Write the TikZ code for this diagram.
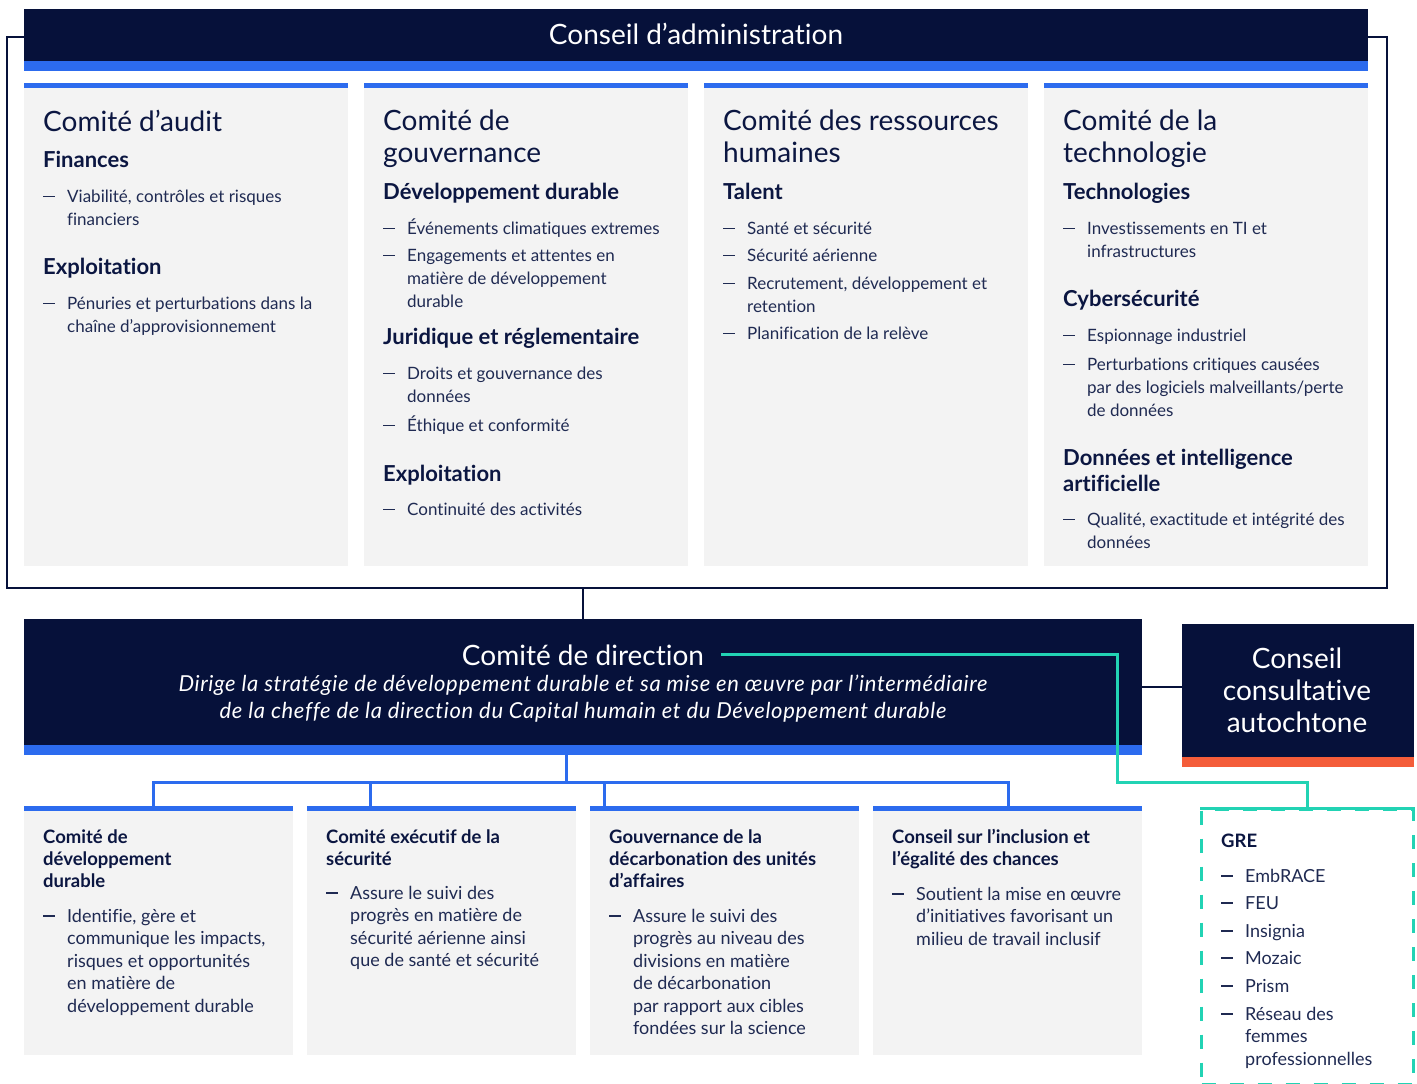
\documentclass[tikz,border=0pt]{standalone}
\usepackage{fontspec}
\setmainfont{Lato}[Ligatures={TeX,NoCommon}]
\definecolor{navy}{HTML}{06113A}
\definecolor{bar}{HTML}{2C6BEE}
\definecolor{panel}{HTML}{F3F3F3}
\definecolor{mint}{HTML}{22D3B4}
\definecolor{flame}{HTML}{F45D3A}
\definecolor{ink}{HTML}{0B1641}
\definecolor{body}{HTML}{1F2A52}
% stacked lines, first baseline on top
\newcommand{\lines}[1]{\begin{tabular}[t]{@{}l@{}}#1\end{tabular}}
\newcommand{\clines}[1]{\begin{tabular}[t]{@{}c@{}}#1\end{tabular}}
\newcommand{\dashitem}[1]{\makebox[24pt][l]{\raisebox{0.3em}{\rule{12pt}{1.3pt}}}\lines{#1}}

\begin{document}
\begin{tikzpicture}[x=1pt,y=-1pt,
  panelbox/.style={fill=panel,anchor=north west,inner sep=0pt,minimum width=324pt,minimum height=483pt,
    path picture={\fill[bar] (path picture bounding box.north west) rectangle ([yshift=-5pt]path picture bounding box.north east);}},
  navybox/.style={fill=navy,anchor=north west,inner sep=0pt,
    path picture={\fill[#1] ([yshift=10pt]path picture bounding box.south west) rectangle (path picture bounding box.south east);}},
  navybox/.default=bar,
  frame/.style={draw=navy,line width=2pt,anchor=north west,inner sep=0pt},
  grebox/.style={draw=mint,line width=3pt,dash pattern=on 14pt off 14pt,anchor=north west,inner sep=0pt},
  bandlabel/.style={anchor=base,inner sep=0pt,text=white,font=\fontsize{28}{32}\selectfont},
  bandnote/.style={anchor=base,inner sep=0pt,text=white,font=\itshape\fontsize{22}{27}\selectfont\addfontfeature{LetterSpace=3}},
  heading/.style={anchor=base west,inner sep=0pt,text=ink,font=\fontsize{28}{32}\selectfont},
  subhead/.style={anchor=base west,inner sep=0pt,text=ink,font=\bfseries\fontsize{22}{26}\selectfont},
  item/.style={anchor=base west,inner sep=0pt,text=body,font=\fontsize{17}{23}\selectfont},
  smallhead/.style={anchor=base west,inner sep=0pt,text=ink,font=\bfseries\fontsize{18.5}{22}\selectfont},
  smallitem/.style={anchor=base west,inner sep=0pt,text=body,font=\fontsize{18}{22.5}\selectfont},
  navylink/.style={draw=navy,line width=2pt},
  barlink/.style={draw=bar,line width=3pt},
  mintlink/.style={draw=mint,line width=3pt}]
\useasboundingbox (0,0) rectangle (1417,1084);

% board and its committees
\node[frame,minimum width=1380pt,minimum height=551pt] (board) at (6,36) {};
\node[navybox,minimum width=1344pt,minimum height=62pt] (admin) at (24,9) {};
\node[bandlabel] (adminlbl) at (696,45) {Conseil d’administration};

\node[panelbox] (audit) at (24,83) {};
\node[panelbox] (gouv) at (364,83) {};
\node[panelbox] (rh) at (704,83) {};
\node[panelbox] (techno) at (1044,83) {};

\node[heading] (audit-h) at (43,131) {Comité d'audit};
\node[subhead] (audit-s1) at (43,167) {Finances};
\node[item] (audit-i1) at (43,202) {\dashitem{Viabilité, contrôles et risques\\financiers}};
\node[subhead] (audit-s2) at (43,274) {Exploitation};
\node[item] (audit-i2) at (43,309) {\dashitem{Pénuries et perturbations dans la\\chaîne d’approvisionnement}};

\node[heading] (gouv-h) at (383,130) {\lines{Comité de\\gouvernance}};
\node[subhead] (gouv-s1) at (383,199) {Développement durable};
\node[item] (gouv-i1) at (383,234) {\dashitem{Événements climatiques extremes}};
\node[item] (gouv-i2) at (383,261) {\dashitem{Engagements et attentes en\\matière de développement\\durable}};
\node[subhead] (gouv-s2) at (383,344) {Juridique et réglementaire};
\node[item] (gouv-i3) at (383,379) {\dashitem{Droits et gouvernance des\\données}};
\node[item] (gouv-i4) at (383,431) {\dashitem{Éthique et conformité}};
\node[subhead] (gouv-s3) at (383,481) {Exploitation};
\node[item] (gouv-i5) at (383,515) {\dashitem{Continuité des activités}};

\node[heading] (rh-h) at (723,130) {\lines{Comité des ressources\\humaines}};
\node[subhead] (rh-s1) at (723,199) {Talent};
\node[item] (rh-i1) at (723,234) {\dashitem{Santé et sécurité}};
\node[item] (rh-i2) at (723,261) {\dashitem{Sécurité aérienne}};
\node[item] (rh-i3) at (723,289) {\dashitem{Recrutement, développement et\\retention}};
\node[item] (rh-i4) at (723,339) {\dashitem{Planification de la relève}};

\node[heading] (techno-h) at (1063,130) {\lines{Comité de la\\technologie}};
\node[subhead] (techno-s1) at (1063,199) {Technologies};
\node[item] (techno-i1) at (1063,234) {\dashitem{Investissements en TI et\\infrastructures}};
\node[subhead] (techno-s2) at (1063,306) {Cybersécurité};
\node[item] (techno-i2) at (1063,341) {\dashitem{Espionnage industriel}};
\node[item] (techno-i3) at (1063,370) {\dashitem{Perturbations critiques causées\\par des logiciels malveillants/perte\\de données}};
\node[subhead] (techno-s3) at (1063,465) {\lines{Données et intelligence\\artificielle}};
\node[item] (techno-i4) at (1063,525) {\dashitem{Qualité, exactitude et intégrité des\\données}};

% management level
\node[navybox,minimum width=1118pt,minimum height=136pt] (direc) at (24,619) {};
\node[bandlabel] (dirlbl) at (583,665) {Comité de direction};
\node[bandnote] (dirnote) at (583,691) {\clines{Dirige la stratégie de développement durable et sa mise en œuvre par l’intermédiaire\\de la cheffe de la direction du Capital humain et du Développement durable}};

\node[navybox=flame,minimum width=232pt,minimum height=143pt] (autoch) at (1182,624) {};
\node[bandlabel] (autolbl) at (1297,668) {\clines{Conseil\\consultative\\autochtone}};

% working groups
\node[panelbox,minimum width=269pt,minimum height=249pt] (sdc) at (24,806) {};
\node[panelbox,minimum width=269pt,minimum height=249pt] (sec) at (307,806) {};
\node[panelbox,minimum width=269pt,minimum height=249pt] (dec) at (590,806) {};
\node[panelbox,minimum width=269pt,minimum height=249pt] (inc) at (873,806) {};

\node[smallhead] (sdc-h) at (43,843) {\lines{Comité de\\développement\\durable}};
\node[smallitem] (sdc-i) at (43,922) {\dashitem{Identifie, gère et\\communique les impacts,\\risques et opportunités\\en matière de\\développement durable}};
\node[smallhead] (sec-h) at (326,843) {\lines{Comité exécutif de la\\sécurité}};
\node[smallitem] (sec-i) at (326,899) {\dashitem{Assure le suivi des\\progrès en matière de\\sécurité aérienne ainsi\\que de santé et sécurité}};
\node[smallhead] (dec-h) at (609,843) {\lines{Gouvernance de la\\décarbonation des unités\\d’affaires}};
\node[smallitem] (dec-i) at (609,922) {\dashitem{Assure le suivi des\\progrès au niveau des\\divisions en matière\\de décarbonation\\par rapport aux cibles\\fondées sur la science}};
\node[smallhead] (inc-h) at (892,843) {\lines{Conseil sur l’inclusion et\\l’égalité des chances}};
\node[smallitem] (inc-i) at (892,900) {\dashitem{Soutient la mise en œuvre\\d’initiatives favorisant un\\milieu de travail inclusif}};

% employee resource groups
\node[grebox,minimum width=212pt,minimum height=275pt] (gre) at (1200,808) {};
\draw[mint,line width=3pt] (gre.north west) -- (gre.north east);
\node[smallhead] (gre-h) at (1221,847) {GRE};
\foreach \nm/\yy in {EmbRACE/882,FEU/909,Insignia/937,Mozaic/964,Prism/992}
  \node[smallitem] (gre-\nm) at (1221,\yy) {\dashitem{\nm}};
\node[smallitem] (gre-rfp) at (1221,1020) {\dashitem{Réseau des\\femmes\\professionnelles}};

% links
\draw[navylink] (direc.north) -- (direc.north |- board.south);
\draw[navylink] (direc.east) -- (direc.east -| autoch.west);
\coordinate (hub) at (566,782);
\draw[barlink] (direc.south -| hub) -- (hub);
\draw[barlink] (hub) -| ([xshift=129pt]sdc.north west);
\draw[barlink] (hub) -| ([xshift=63pt]sec.north west);
\draw[barlink] (hub) -| ([xshift=14pt]dec.north west);
\draw[barlink] (hub) -| ([xshift=135pt]inc.north west);
\coordinate (bend) at (1117,782);
\draw[mintlink] ([xshift=17pt]dirlbl.east) -| (bend) -| (gre.north);
\end{tikzpicture}
\end{document}
